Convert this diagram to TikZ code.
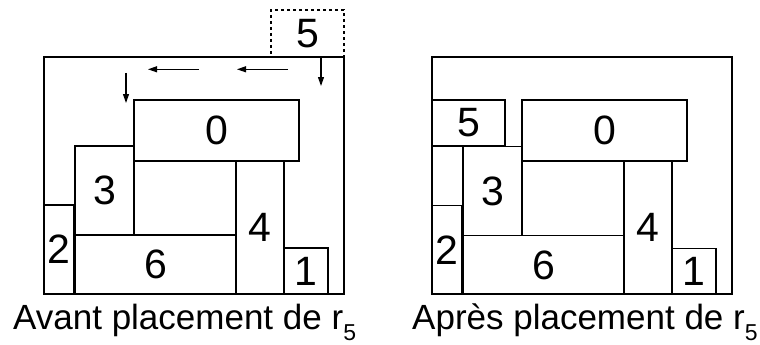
\documentclass[tikz,border=0pt]{standalone}
\usepackage{fontspec}
\setmainfont{Liberation Sans}
\usetikzlibrary{arrows.meta}
\tikzset{
  box/.style={draw=black, line width=1.1pt, inner sep=0pt, outer sep=0pt, font=\fontsize{41}{41}\selectfont},
  ghostbox/.style={box, dashed, dash pattern=on 3pt off 3pt},
  move/.style={draw=black, line width=1.1pt, -{Triangle[length=9pt,width=6pt]}},
  caption/.style={inner sep=0pt, anchor=base west, font=\fontsize{35}{35}\selectfont}
}
\newcommand{\subfive}{\raisebox{-11pt}{\fontsize{23}{23}\selectfont 5}}
\begin{document}
\begin{tikzpicture}[x=1pt, y=-1pt]
\useasboundingbox (0,0) rectangle (760,345);
% ---------- left panel: before ----------
\node[box, minimum width=300pt, minimum height=237pt] (Lout) at (194,175.5) {};
\node[ghostbox, minimum width=73pt, minimum height=47pt] (L5) at (307.5,33.5) {5};
\node[box, minimum width=165pt, minimum height=61pt] (L0) at (216.5,130.5) {0};
\node[box, minimum width=59pt, minimum height=89pt] (L3) at (104.5,190.5) {3};
\node[box, minimum width=161pt, minimum height=59pt] (L6) at (155.5,264.5) {6};
\node[box, minimum width=48pt, minimum height=133pt] (L4) at (260,227.5) {4};
\node[box, minimum width=30pt, minimum height=89pt] (L2) at (59,249.5) {2};
\node[box, minimum width=44pt, minimum height=46pt] (L1) at (306,271) {1};
\coordinate (a1s) at (321,57);
\coordinate (a1e) at (321,86);
\coordinate (a2s) at (288,69.3);
\coordinate (a2e) at (237,69.3);
\coordinate (a3s) at (199,69.3);
\coordinate (a3e) at (148,69.3);
\coordinate (a4s) at (126,73);
\coordinate (a4e) at (126,103);
\draw[move] (a1s) -- (a1e);
\draw[move] (a2s) -- (a2e);
\draw[move] (a3s) -- (a3e);
\draw[move] (a4s) -- (a4e);
\node[caption] (capL) at (13,329) {Avant placement de r\subfive};
% ---------- right panel: after ----------
\begin{scope}[xshift=388pt]
\node[box, minimum width=300pt, minimum height=237pt] (Rout) at (194,175.5) {};
\node[box, minimum width=73pt, minimum height=46pt] (R5) at (80.5,123) {5};
\node[box, minimum width=165pt, minimum height=61pt] (R0) at (216.5,130.5) {0};
\node[box, minimum width=59pt, minimum height=89pt] (R3) at (104.5,191) {3};
\node[box, minimum width=161pt, minimum height=59pt] (R6) at (155.5,265) {6};
\node[box, minimum width=48pt, minimum height=133pt] (R4) at (260,227.5) {4};
\node[box, minimum width=30pt, minimum height=89pt] (R2) at (59,250) {2};
\node[box, minimum width=44pt, minimum height=46pt] (R1) at (306,271.5) {1};
\node[caption] (capR) at (24,329) {Après placement de r\subfive};
\end{scope}
\end{tikzpicture}
\end{document}
